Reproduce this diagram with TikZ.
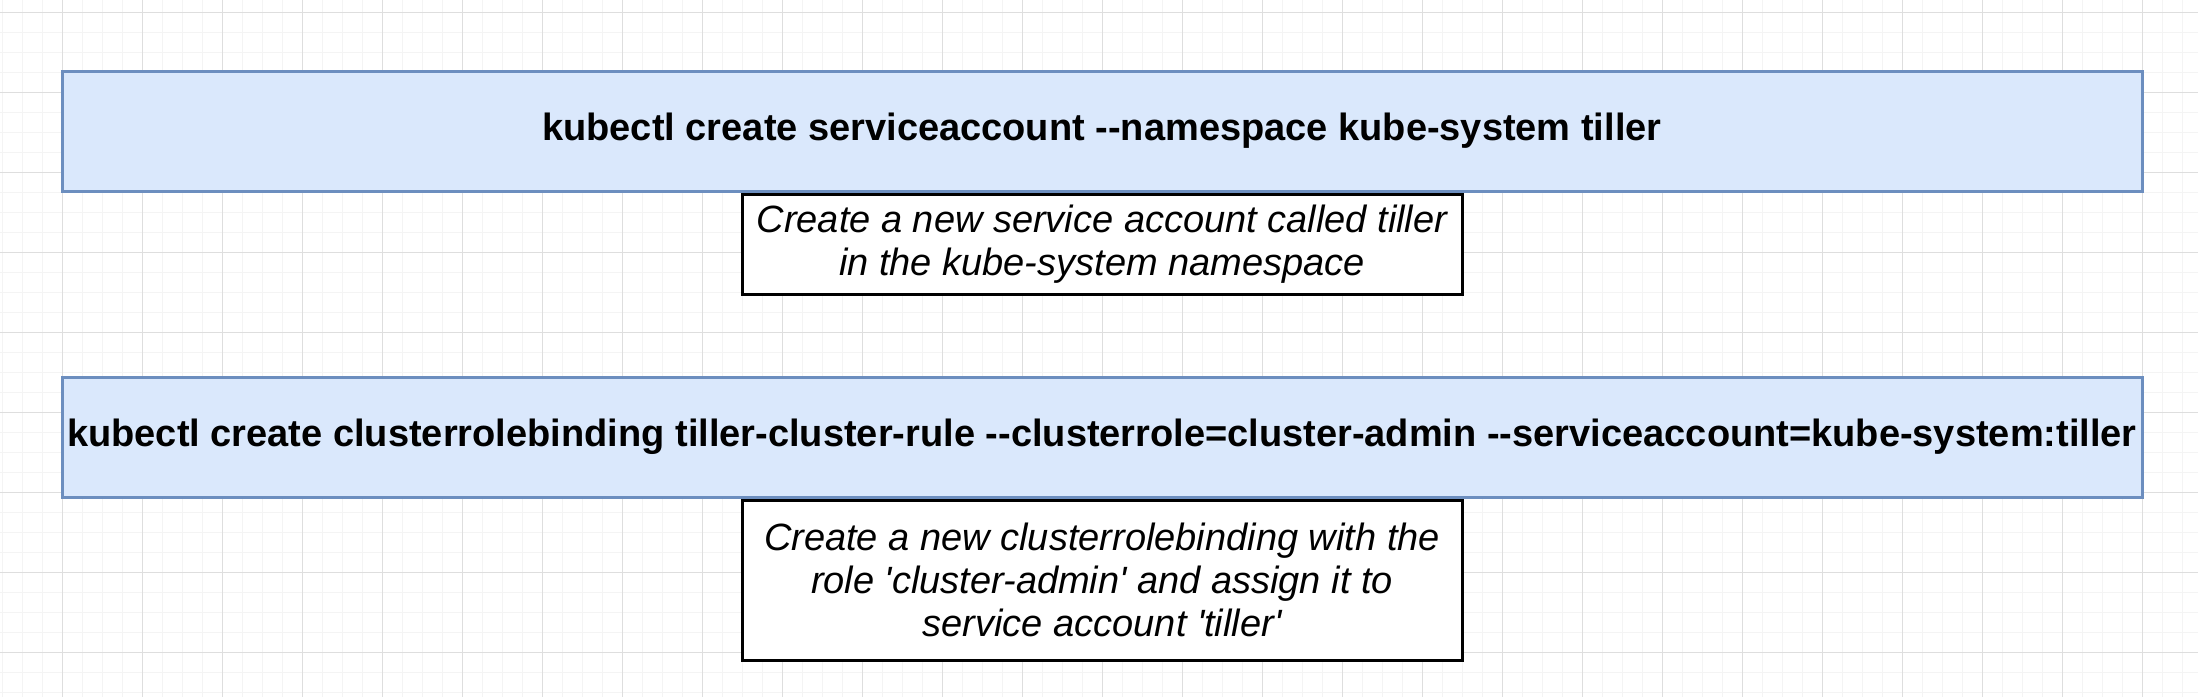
\documentclass[tikz,border=0pt]{standalone}
\usepackage{fontspec}
\setmainfont{Liberation Sans}[Ligatures=TeXOff]
\usetikzlibrary{positioning}
\definecolor{cmdfill}{HTML}{DAE8FC}
\definecolor{cmdline}{HTML}{6C8EBF}
\definecolor{gridminor}{HTML}{F4F4F4}
\definecolor{gridmajor}{HTML}{DEDEDE}

\begin{document}
\begin{tikzpicture}[x=1pt,y=1pt,
		command/.style={draw=cmdline,fill=cmdfill,line width=1.5pt,minimum width=1040pt,minimum height=60pt,inner sep=0pt,font=\fontsize{19}{21.5}\selectfont\bfseries},
		remark/.style={draw=black,fill=white,line width=1.5pt,minimum width=360pt,inner sep=0pt,align=center,font=\fontsize{19}{21.5}\selectfont\itshape}]
		\useasboundingbox (0,0) rectangle (1099,-348);
		\fill[white] (0,0) rectangle (1099,-348);
		\draw[gridminor,line width=0.6pt,shift={(1.15,-6.15)}] (-10,-350) grid[step=10] (1100,10);
		\draw[gridmajor,line width=0.6pt,shift={(31.15,-6.15)}] (-40,-360) grid[step=40] (1080,10);
		
		\node[command] (account) at (551,-65.5) {kubectl create serviceaccount --namespace kube-system tiller};
		\node[remark,minimum height=50pt,below=0pt of account] (accountnote) {Create a new service account called tiller\\in the kube-system namespace};
		\node[command,below=40pt of accountnote] (binding) {kubectl create clusterrolebinding tiller-cluster-rule --clusterrole=cluster-admin --serviceaccount=kube-system:tiller};
		\node[remark,minimum height=80pt,below=0pt of binding] (bindingnote) {Create a new clusterrolebinding with the\\role 'cluster-admin' and assign it to\\service account 'tiller'};
\end{tikzpicture}
\end{document}
